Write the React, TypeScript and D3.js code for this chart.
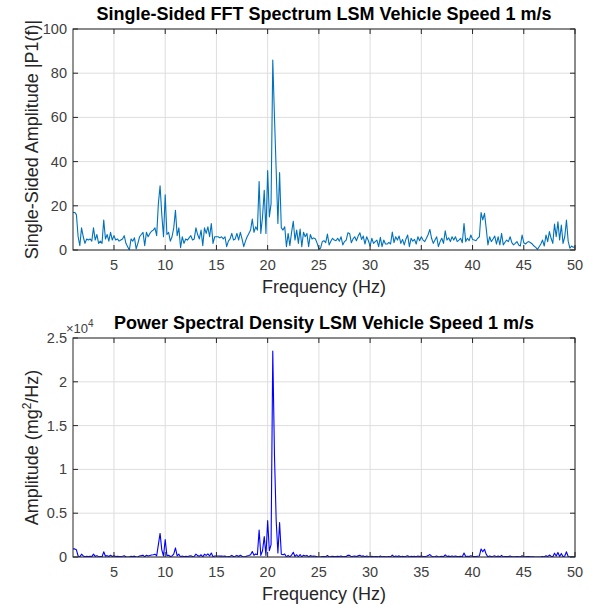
import React from 'react';
import * as d3 from 'd3';

// frequency bins: 1 Hz .. 50 Hz, 1/6 Hz apart
const FREQ_START = 1;
const FREQ_STEP = 1 / 6;

// single-sided amplitude |P1(f)|, six bins per row (one row per Hz)
const fftAmplitude = [
  17, 17, 16, 6, 2, 10,
  6, 3, 5, 4.5, 5, 4,
  10, 4.5, 7, 3, 4, 3,
  13.6, 5, 7, 4, 8, 4.5,
  6.5, 4.5, 5, 4, 4.5, 5,
  6.5, 3, 1.5, 0, 5, 4,
  5.5, 0.5, 3, 6, 7, 8,
  2, 8, 6, 7.5, 8.5, 9,
  10, 6.5, 21, 29, 16, 6,
  25, 7, 8, 4, 6, 10,
  18, 6.5, 10, 1, 6, 3,
  5, 4.5, 5.5, 6.5, 4.5, 5,
  10, 7, 5, 9, 2, 10,
  7.5, 10.5, 6, 12, 3, 6,
  6, 6, 5.5, 6, 5, 6,
  1.5, 4, 5, 7.5, 4.5, 5,
  7.5, 4.5, 8, 5, 1.5, 4,
  6, 7.5, 9, 14, 8, 10.5,
  9, 31, 7.5, 15, 27, 7.5,
  36, 15, 21, 86, 60, 36,
  12, 35, 10, 9, 10.5, 1.5,
  7.5, 2, 8, 13, 4.5, 9,
  3, 9.5, 1.5, 8, 6, 7.5,
  1.5, 7, 5, 5.5, 5, 3,
  0.5, 0.8, 3.8, 4.2, 3.3, 7.2,
  2.3, 4, 5.3, 4.5, 4.2, 5.3,
  4, 6, 2.3, 3.8, 4.5, 7.8,
  7.5, 3.3, 5, 6, 4.2, 6.3,
  7.8, 4.8, 6.3, 2.7, 6, 4.2,
  1.8, 5.3, 3, 3.8, 4.5, 1.5,
  5.7, 1.5, 4.5, 2.7, 2.7, 3.5,
  2.7, 8.1, 3.3, 6, 4.5, 6.3,
  3, 4.8, 2.3, 5, 6.8, 1.5,
  5.3, 4, 4.8, 2.7, 6, 4.2,
  6, 4.5, 3.8, 5.3, 7, 9.3,
  5.3, 3, 4.5, 6, 1.5, 3.8,
  5.3, 3, 8.7, 4.5, 5.5, 3.8,
  6, 4.5, 6, 3.8, 4.5, 5.3,
  3.3, 12, 3.8, 5.3, 4.2, 6.8,
  4.8, 4.5, 4.2, 5.3, 6, 16.9,
  13.6, 16.6, 9.8, 2.3, 6, 3.8,
  5, 6.3, 2.7, 6, 2.3, 7.5,
  2.3, 3.5, 4.5, 3.8, 6, 3.3,
  2.3, 3, 3.8, 2.3, 1.8, 6.8,
  3.3, 2.7, 3.5, 3.8, 3.3, 2.7,
  1.8, 1.2, 0.3, 1.5, 2.7, 4.5,
  1.8, 6.8, 3.8, 8.3, 5.3, 3,
  11.7, 6, 12.8, 4.5, 11.3, 3,
  6, 13.6, 4, 0.8, 1.8, 1.2,
  1.5,
];

// power spectral density (mg^2/Hz), same bins
const psdAmplitude = [
  925, 925, 819, 115, 13, 320,
  115, 29, 80, 65, 80, 51,
  320, 65, 157, 29, 51, 29,
  592, 80, 157, 51, 205, 65,
  135, 65, 80, 51, 65, 80,
  135, 29, 7, 0, 80, 51,
  97, 1, 29, 115, 157, 205,
  13, 205, 115, 180, 231, 259,
  320, 135, 1411, 2691, 819, 115,
  2000, 157, 205, 51, 115, 320,
  1037, 135, 320, 3, 115, 29,
  80, 65, 97, 135, 65, 80,
  320, 157, 80, 259, 13, 320,
  180, 353, 115, 461, 29, 115,
  115, 115, 97, 115, 80, 115,
  7, 51, 80, 180, 65, 80,
  180, 65, 205, 80, 7, 51,
  115, 180, 259, 627, 205, 353,
  259, 3075, 180, 720, 2333, 180,
  4147, 720, 1411, 23500, 11520, 4147,
  461, 3920, 320, 259, 353, 7,
  180, 13, 205, 541, 65, 259,
  29, 289, 7, 205, 115, 180,
  7, 157, 80, 97, 80, 29,
  1, 2, 46, 56, 35, 166,
  17, 51, 90, 65, 56, 90,
  51, 115, 17, 46, 65, 195,
  180, 35, 80, 115, 56, 127,
  195, 74, 127, 23, 115, 56,
  10, 90, 29, 46, 65, 7,
  104, 7, 65, 23, 23, 39,
  23, 210, 35, 115, 65, 127,
  29, 74, 17, 80, 148, 7,
  90, 51, 74, 23, 115, 56,
  115, 65, 46, 90, 157, 277,
  90, 29, 65, 115, 7, 46,
  90, 29, 242, 65, 97, 46,
  115, 65, 115, 46, 65, 90,
  35, 461, 46, 90, 56, 148,
  74, 65, 56, 90, 115, 914,
  592, 882, 307, 17, 115, 46,
  80, 127, 23, 115, 17, 180,
  17, 39, 65, 46, 115, 35,
  17, 29, 46, 17, 10, 148,
  35, 23, 39, 46, 35, 23,
  10, 5, 0, 7, 23, 65,
  10, 148, 46, 220, 90, 29,
  438, 115, 524, 65, 409, 29,
  115, 592, 51, 2, 10, 5,
  7,
];

const freqTicks = [5, 10, 15, 20, 25, 30, 35, 40, 45, 50];
const fftTicks = [0, 20, 40, 60, 80, 100];
const fftTickLabels = ['0', '20', '40', '60', '80', '100'];
const psdTicks = [0, 5000, 10000, 15000, 20000, 25000];
const psdTickLabels = ['0', '0.5', '1', '1.5', '2', '2.5'];

const WIDTH = 594;
const HEIGHT = 606;
const LEFT = 73;
const RIGHT = 575;
const FONT = "'Liberation Sans', Arial, Helvetica, sans-serif";
const AXIS_COLOR = '#262626';
const TICK_TEXT = '#404040';
const GRID_COLOR = '#dedede';
const TICK_LEN = 5;

interface PanelProps {
  id: string;
  top: number;
  bottom: number;
  values: number[];
  yMax: number;
  yTicks: number[];
  yTickLabels: string[];
  color: string;
  title: string;
  yLabel: React.ReactNode;
  exponent?: boolean;
}

function Panel({ id, top, bottom, values, yMax, yTicks, yTickLabels, color, title, yLabel, exponent }: PanelProps) {
  const x = d3.scaleLinear().domain([1, 50]).range([LEFT, RIGHT]);
  const y = d3.scaleLinear().domain([0, yMax]).range([bottom, top]);
  const line = d3.line<number>()
    .x((_, i) => x(FREQ_START + i * FREQ_STEP))
    .y(d => y(d));
  const midX = (LEFT + RIGHT) / 2;
  const midY = (top + bottom) / 2;

  return (
    <g>
      <defs>
        <clipPath id={id}>
          <rect x={LEFT} y={top} width={RIGHT - LEFT} height={bottom - top} />
        </clipPath>
      </defs>
      <rect x={LEFT} y={top} width={RIGHT - LEFT} height={bottom - top} fill="#fff" />
      {/* grid */}
      {freqTicks.map(t => (
        <line key={'gx' + t} x1={x(t)} x2={x(t)} y1={top} y2={bottom} stroke={GRID_COLOR} strokeWidth={1} />
      ))}
      {yTicks.map(t => (
        <line key={'gy' + t} x1={LEFT} x2={RIGHT} y1={y(t)} y2={y(t)} stroke={GRID_COLOR} strokeWidth={1} />
      ))}
      {/* data */}
      <path d={line(values) || ''} fill="none" stroke={color} strokeWidth={1.1} clipPath={`url(#${id})`} strokeLinejoin="round" />
      {/* box */}
      <rect x={LEFT} y={top} width={RIGHT - LEFT} height={bottom - top} fill="none" stroke={AXIS_COLOR} strokeWidth={1} />
      {/* ticks */}
      {freqTicks.map(t => (
        <g key={'tx' + t}>
          <line x1={x(t)} x2={x(t)} y1={bottom} y2={bottom - TICK_LEN} stroke={AXIS_COLOR} />
          <line x1={x(t)} x2={x(t)} y1={top} y2={top + TICK_LEN} stroke={AXIS_COLOR} />
          <text x={x(t)} y={bottom + 20} textAnchor="middle" fontSize={14.5} fill={TICK_TEXT}>{t}</text>
        </g>
      ))}
      {yTicks.map((t, i) => (
        <g key={'ty' + t}>
          <line x1={LEFT} x2={LEFT + TICK_LEN} y1={y(t)} y2={y(t)} stroke={AXIS_COLOR} />
          <line x1={RIGHT} x2={RIGHT - TICK_LEN} y1={y(t)} y2={y(t)} stroke={AXIS_COLOR} />
          <text x={LEFT - 6} y={y(t) + 5} textAnchor="end" fontSize={14.5} fill={TICK_TEXT}>{yTickLabels[i]}</text>
        </g>
      ))}
      {exponent && (
        <text x={LEFT - 7} y={top - 5} fontSize={13} fill={TICK_TEXT}>
          ×10<tspan dy={-6} fontSize={10}>4</tspan>
        </text>
      )}
      {/* labels */}
      <text x={midX} y={top - 9} textAnchor="middle" fontSize={18} fontWeight="bold" fill="#000">{title}</text>
      <text x={midX} y={bottom + 43} textAnchor="middle" fontSize={18} fill={AXIS_COLOR}>Frequency (Hz)</text>
      <text transform={`translate(38,${midY}) rotate(-90)`} textAnchor="middle" fontSize={18} fill={AXIS_COLOR}>{yLabel}</text>
    </g>
  );
}

export default function App() {
  return (
    <svg
      width={WIDTH}
      height={HEIGHT}
      style={{ position: 'absolute', left: 0, top: 0, background: '#fff', fontFamily: FONT }}
    >
      <rect width={WIDTH} height={HEIGHT} fill="#fff" />
      <Panel
        id="clip-fft"
        top={29}
        bottom={250}
        values={fftAmplitude}
        yMax={100}
        yTicks={fftTicks}
        yTickLabels={fftTickLabels}
        color="#0072BD"
        title="Single-Sided FFT Spectrum LSM Vehicle Speed 1 m/s"
        yLabel="Single-Sided Amplitude |P1(f)|"
      />
      <Panel
        id="clip-psd"
        top={338}
        bottom={557}
        values={psdAmplitude}
        yMax={25000}
        yTicks={psdTicks}
        yTickLabels={psdTickLabels}
        color="#0000FF"
        title="Power Spectral Density LSM Vehicle Speed 1 m/s"
        yLabel={<>Amplitude (mg<tspan dy={-7} fontSize={12}>2</tspan><tspan dy={7}>/Hz)</tspan></>}
        exponent
      />
    </svg>
  );
}
